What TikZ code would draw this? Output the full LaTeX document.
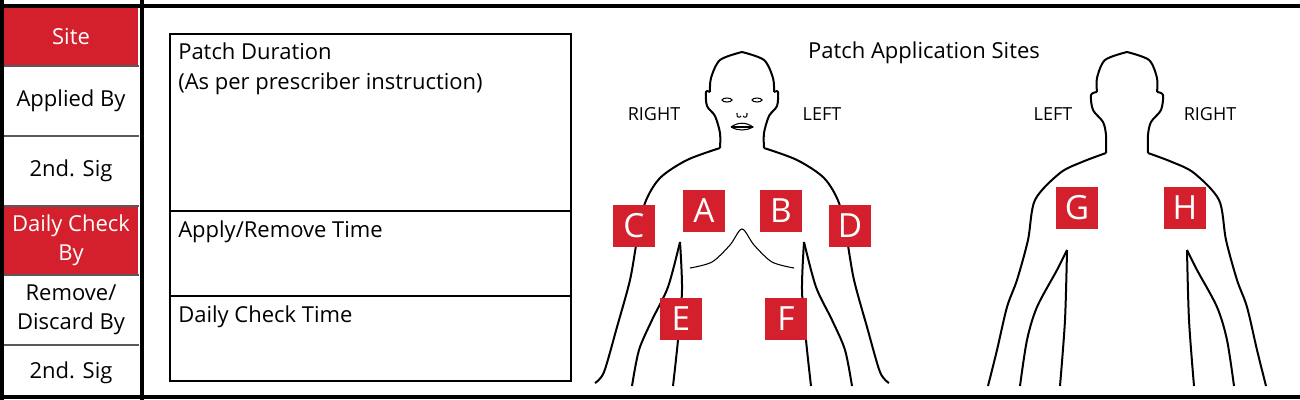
\documentclass[tikz,border=0pt]{standalone}
\usepackage{fontspec}
\setmainfont{Open Sans}
\usetikzlibrary{positioning}
\definecolor{patchred}{RGB}{211,32,44}
\tikzstyle{cell} = [minimum width=101pt, minimum height=52.5pt, inner sep=0pt,
    align=center, font=\fontsize{16.5}{21.5}\selectfont]
\tikzstyle{redcell} = [cell, fill=patchred, text=white]
\tikzstyle{site} = [fill=patchred, text=white, minimum size=31.5pt, inner sep=0pt,
    font=\fontsize{25}{25}\selectfont]
\tikzstyle{side} = [font=\fontsize{13.5}{14}\selectfont]
\tikzstyle{boxtext} = [anchor=north west, inner sep=0pt, align=left,
    font=\fontsize{16.5}{22.5}\selectfont]
\tikzstyle{outline} = [line width=1.5pt, line join=round]
% half outline of a figure, left side, relative to its centre line
\def\front{
    \draw[outline] plot[smooth] coordinates {(0,52) (-22,60) (-31,78) (-32,92)};
    \draw[outline] plot[smooth] coordinates {(-32,92) (-36,92) (-35,106) (-27,116) (-22,133) (-22,148)};
    \draw[outline] plot[smooth] coordinates {(-22,148) (-55,160) (-82,178) (-97,203) (-105,240) (-112,280) (-125,327) (-138,372) (-147,383)};
    \draw[outline] plot[smooth] coordinates {(-110,386) (-103,350) (-90,320) (-74,287) (-62,242)};
    \draw[outline] plot[smooth] coordinates {(-62,242) (-60,290) (-64,340) (-69,386)};
}
\def\back{
    \draw[outline] plot[smooth] coordinates {(0,52) (-22,60) (-30,78) (-30,92)};
    \draw[outline] plot[smooth] coordinates {(-30,92) (-36,95) (-34,110) (-24,122) (-21,135) (-21,153)};
    \draw[outline] plot[smooth] coordinates {(-21,153) (-45,162) (-67,173) (-92,200) (-99,240) (-110,280) (-120,307) (-130,350) (-139,386)};
    \draw[outline] plot[smooth] coordinates {(-107,386) (-100,340) (-90,307) (-70,270) (-60,250)};
    \draw[outline] plot[smooth] coordinates {(-60,250) (-62,320) (-67,386)};
}

\begin{document}
\begin{tikzpicture}[x=0.75pt, y=-0.75pt]
\useasboundingbox (0,0) rectangle (1300,400);

% left column
\node[redcell, minimum height=43pt] (site) at (71,37) {Site};
\node[cell] (applied) at (71,101) {Applied By};
\node[cell] (sigone) at (71,171) {2nd. Sig};
\node[redcell, minimum height=51pt] (check) at (71,240.5) {Daily Check\\By};
\node[cell] (discard) at (71,310) {Remove/\\Discard By};
\node[cell, minimum height=38pt] (sigtwo) at (71,373) {2nd. Sig};
\foreach \y in {66,136,206,275,345}
    \draw[gray!70!black, thick] (4,\y) -- (139,\y);
\draw[line width=3pt] (0,6) -- (1300,6);
\draw[line width=3pt] (0,397) -- (1300,397);
\draw[line width=3pt] (2,0) -- (2,400);
\draw[line width=3pt] (142,0) -- (142,400);

% time box
\draw[line width=1.3pt] (170,34) rectangle (571,381);
\draw[line width=1.3pt] (170,211) -- (571,211);
\draw[line width=1.3pt] (170,296) -- (571,296);
\node[boxtext] (duration) at (178,43) {Patch Duration\\(As per prescriber instruction)};
\node[boxtext] (apply) at (178,221) {Apply/Remove Time};
\node[boxtext] (daily) at (178,306) {Daily Check Time};

% figures
\node[font=\fontsize{16.5}{18}\selectfont] (title) at (924,53) {Patch Application Sites};
\begin{scope}[xshift=742*0.75pt]
\front
\begin{scope}[xscale=-1]
\front
\end{scope}
\draw[thick] (-15,100) ellipse (5 and 2);
\draw[thick] (15,100) ellipse (5 and 2);
\draw[thick] (-5,113) .. controls (-6,118) and (-2,118) .. (-1,116);
\draw[thick] (5,113) .. controls (6,118) and (2,118) .. (1,116);
\draw[thick] (-11,127) .. controls (-4,122) and (4,122) .. (11,127)
    .. controls (4,131) and (-4,131) .. (-11,127);
\draw[thick] (-11,127) -- (11,127);
\draw[thick] plot[smooth] coordinates {(-52,268) (-30,262) (-12,245) (0,229) (12,245) (30,262) (52,268)};
\end{scope}
\begin{scope}[xshift=1127*0.75pt]
\back
\begin{scope}[xscale=-1]
\back
\end{scope}
\end{scope}

\node[side] (rightf) at (654,114) {RIGHT};
\node[side] (leftf) at (822,114) {LEFT};
\node[side] (leftb) at (1053,114) {LEFT};
\node[side] (rightb) at (1210,114) {RIGHT};

\node[site] (A) at (704,211) {A};
\node[site] (B) at (781,211) {B};
\node[site] (C) at (634,226) {C};
\node[site] (D) at (850,226) {D};
\node[site] (E) at (681,319) {E};
\node[site] (F) at (786,319) {F};
\node[site] (G) at (1077,208) {G};
\node[site] (H) at (1185,208) {H};
\end{tikzpicture}
\end{document}
